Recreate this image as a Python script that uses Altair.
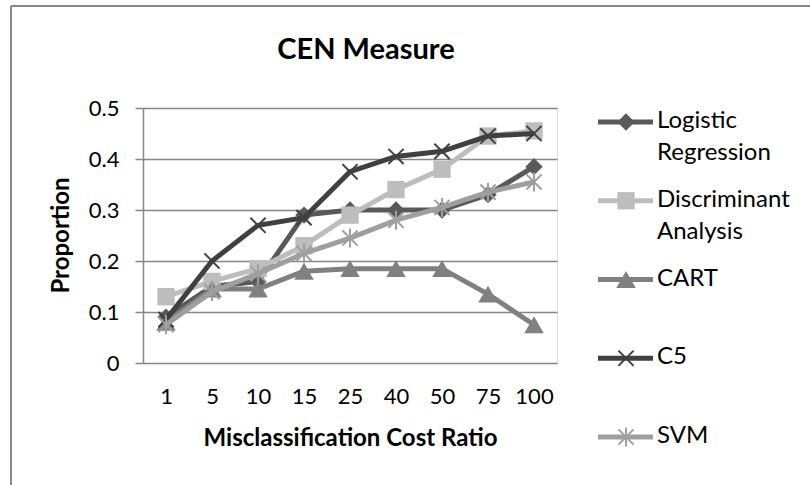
import altair as alt
import pandas as pd

# Misclassification cost ratios (x categories)
ratios = ["1", "5", "10", "15", "25", "40", "50", "75", "100"]

series_names = ["Logistic Regression", "Discriminant Analysis", "CART", "C5", "SVM"]
legend_labels = ["Logistic\nRegression", "Discriminant\nAnalysis", "CART", "C5", "SVM"]

# CEN proportion per model
logistic = [0.09, 0.15, 0.16, 0.29, 0.30, 0.30, 0.30, 0.33, 0.385]
discriminant = [0.13, 0.16, 0.185, 0.23, 0.29, 0.34, 0.38, 0.445, 0.455]
cart = [0.08, 0.145, 0.145, 0.18, 0.185, 0.185, 0.185, 0.135, 0.075]
c5 = [0.085, 0.20, 0.27, 0.285, 0.375, 0.405, 0.415, 0.445, 0.45]
svm = [0.075, 0.14, 0.175, 0.215, 0.245, 0.28, 0.305, 0.335, 0.355]

chart_title = "CEN Measure"

colors = ["#595959", "#bdbdbd", "#808080", "#404040", "#9f9f9f"]
x_path = "M-1,-1L1,1M-1,1L1,-1"
star_path = "M-1,-1L1,1M-1,1L1,-1M0,-1.25L0,1.25"
shapes = ["diamond", "square", "triangle-up", x_path, star_path]
marker_sizes = [300, 300, 380, 230, 230]
marker_filled = [True, True, True, False, False]

FONT = "Lato"
GRID = "#878787"

rows = []
for name, vals in zip(series_names, [logistic, discriminant, cart, c5, svm]):
    for r, v in zip(ratios, vals):
        rows.append({"series": name, "ratio": r, "value": v})
df = pd.DataFrame(rows)

legend_df = pd.DataFrame(
    {"series": series_names, "label": legend_labels, "rank": list(range(len(series_names)))}
)

color_enc = alt.Color(
    "series:N", scale=alt.Scale(domain=series_names, range=colors), legend=None
)
shape_enc = alt.Shape(
    "series:N", scale=alt.Scale(domain=series_names, range=shapes), legend=None
)

x_enc = alt.X(
    "ratio:N",
    sort=ratios,
    scale=alt.Scale(type="point", padding=0.5),
    axis=alt.Axis(
        title="Misclassification Cost Ratio",
        labelAngle=0,
        ticks=False,
        domain=False,
        grid=False,
        labelFont=FONT,
        labelFontSize=22,
        labelColor="#000000",
        labelPadding=23,
        titleFont=FONT,
        titleFontSize=24,
        titleFontWeight="bold",
        titleColor="#000000",
        titleY=75,
        titleBaseline="middle",
    ),
)

y_axis = alt.Axis(
    title="Proportion",
    values=[0, 0.1, 0.2, 0.3, 0.4, 0.5],
    format="~g",
    grid=True,
    gridColor=GRID,
    gridWidth=1.5,
    domainColor=GRID,
    domainWidth=1.5,
    tickColor=GRID,
    tickWidth=1.5,
    tickSize=8,
    labelFont=FONT,
    labelFontSize=22,
    labelColor="#000000",
    labelPadding=16,
    titleFont=FONT,
    titleFontSize=24,
    titleFontWeight="bold",
    titleColor="#000000",
    titleAngle=270,
    titleX=-82,
    titleY=127,
    titleAlign="center",
    titleBaseline="middle",
)
y_scale = alt.Scale(domain=[0, 0.5])

base = alt.Chart(df)
layers = []

# chart frame (top and left edges) and heading
frame_df = pd.DataFrame({"k": [0]})
layers.append(
    alt.Chart(frame_df)
    .mark_rule(color=GRID, strokeWidth=2)
    .encode(x=alt.value(-132), x2=alt.value(667), y=alt.value(-102))
)
layers.append(
    alt.Chart(frame_df)
    .mark_rule(color=GRID, strokeWidth=2)
    .encode(x=alt.value(-132), y=alt.value(-102), y2=alt.value(377))
)
layers.append(
    alt.Chart(pd.DataFrame({"t": [chart_title]}))
    .mark_text(
        font=FONT, fontSize=29, fontWeight="bold", color="#000000",
        align="center", baseline="middle",
    )
    .encode(x=alt.value(223), y=alt.value(-58), text="t:N")
)

first = True
for i, name in enumerate(series_names):
    sub = base.transform_filter(alt.datum.series == name)
    y_enc = alt.Y("value:Q", scale=y_scale, axis=y_axis if first else None)
    first = False
    layers.append(
        sub.mark_line(strokeWidth=5).encode(x=x_enc, y=y_enc, color=color_enc)
    )
    if marker_filled[i]:
        pt = sub.mark_point(filled=True, opacity=1, size=marker_sizes[i])
    else:
        pt = sub.mark_point(filled=False, opacity=1, strokeWidth=2, size=marker_sizes[i])
    layers.append(
        pt.encode(
            x=x_enc,
            y=alt.Y("value:Q", scale=y_scale, axis=None),
            color=color_enc,
            shape=shape_enc,
        )
    )

# legend: line swatch, marker and label for each model
leg_y = alt.Y("rank:Q", scale=alt.Scale(domain=[0, 4], range=[14, 329]), axis=None)
leg = alt.Chart(legend_df)
layers.append(
    leg.mark_rule(strokeWidth=5).encode(
        x=alt.value(455), x2=alt.value(510), y=leg_y, color=color_enc
    )
)
for i, name in enumerate(series_names):
    s = leg.transform_filter(alt.datum.series == name)
    if marker_filled[i]:
        pt = s.mark_point(filled=True, opacity=1, size=marker_sizes[i])
    else:
        pt = s.mark_point(filled=False, opacity=1, strokeWidth=2, size=marker_sizes[i])
    layers.append(pt.encode(x=alt.value(483), y=leg_y, color=color_enc, shape=shape_enc))
layers.append(
    leg.mark_text(
        align="left",
        baseline="top",
        dy=-13,
        font=FONT,
        fontSize=24,
        lineHeight=32,
        lineBreak="\n",
        color="#000000",
    ).encode(x=alt.value(514), y=leg_y, text="label:N")
)

chart = (
    alt.layer(*layers)
    .resolve_scale(y="independent")
    .properties(
        width=414,
        height=255,
        autosize=alt.AutoSizeParams(type="none"),
        padding={"left": 143, "top": 108, "right": 253, "bottom": 122},
    )
    .configure_view(stroke=None)
    .configure(background="#ffffff")
)

chart.save("out.html", embed_options={"renderer": "svg", "actions": False})
